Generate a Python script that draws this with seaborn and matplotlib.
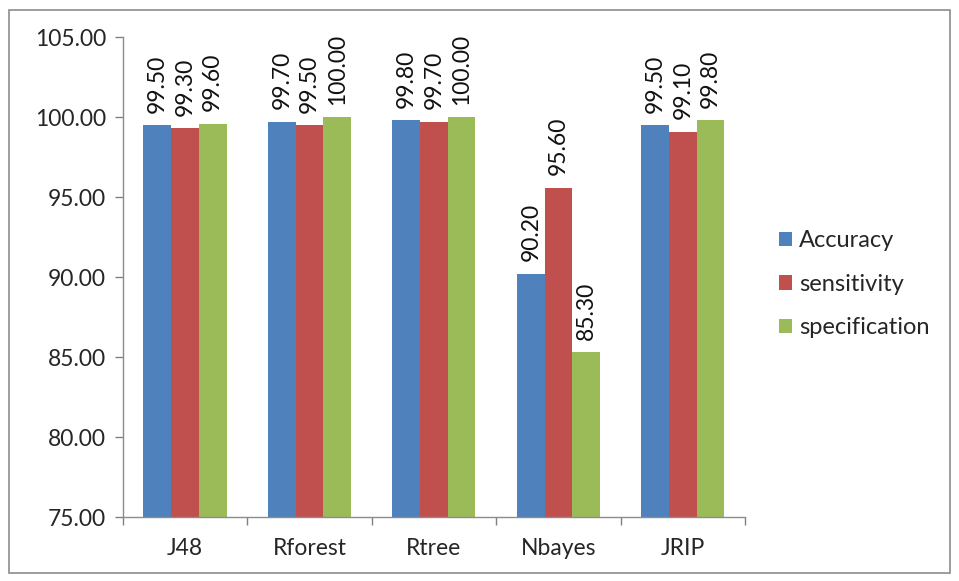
import pandas as pd
import matplotlib
matplotlib.use("Agg")
import matplotlib.pyplot as plt
import seaborn as sns
from matplotlib.patches import Rectangle

# data
models = ['J48', 'Rforest', 'Rtree', 'Nbayes', 'JRIP']
accuracy = [99.50, 99.70, 99.80, 90.20, 99.50]
sensitivity = [99.30, 99.50, 99.70, 95.60, 99.10]
specification = [99.60, 100.00, 100.00, 85.30, 99.80]
metrics = ['Accuracy', 'sensitivity', 'specification']
colors = ['#4F81BD', '#C0504D', '#9BBB59']

df = pd.DataFrame({'Model': models, 'Accuracy': accuracy,
                   'sensitivity': sensitivity, 'specification': specification})
long_df = df.melt(id_vars='Model', var_name='Metric', value_name='Value')

sns.set_style('white')
plt.rcParams['font.family'] = ['Lato', 'DejaVu Sans']

fig = plt.figure(figsize=(9.59, 5.81), dpi=100)
ax = fig.add_axes([0.128, 0.110, 0.649, 0.826])

sns.barplot(data=long_df, x='Model', y='Value', hue='Metric', hue_order=metrics,
            palette=colors, width=0.667, saturation=1, ax=ax, gap=0, linewidth=0)

ax.set_ylim(75, 105)
ax.set_yticks(range(75, 106, 5))
ax.set_yticklabels([f'{v:.2f}' for v in range(75, 106, 5)])
ax.set_xlim(-0.5, len(models) - 0.5)
ax.set_xlabel('')
ax.set_ylabel('')
ax.tick_params(axis='both', labelsize=16.5, labelcolor='#262626')
ax.tick_params(axis='y', length=6, width=1, direction='out', left=True, pad=6, color='#808080')
ax.tick_params(axis='x', length=0, pad=15)
# tick marks between categories
ax.set_xticks([i - 0.5 for i in range(len(models) + 1)], minor=True)
ax.tick_params(axis='x', which='minor', length=6, width=1, direction='out', bottom=True, color='#808080')

for s in ['top', 'right']:
    ax.spines[s].set_visible(False)
for s in ['left', 'bottom']:
    ax.spines[s].set_color('#8c8c8c')
    ax.spines[s].set_linewidth(1)

for cont in ax.containers:
    ax.bar_label(cont, fmt='%.2f', rotation=90, padding=9, fontsize=16.5, color='#111111')

handles, labels = ax.get_legend_handles_labels()
ax.legend(handles, labels, loc='center left', bbox_to_anchor=(1.02, 0.485), frameon=False,
          fontsize=17, handlelength=0.55, handleheight=0.55, handletextpad=0.3,
          labelspacing=0.95)

fig.patches.append(Rectangle((0.009, 0.014), 0.982, 0.968, transform=fig.transFigure,
                             fill=False, edgecolor='#8c8c8c', linewidth=1.2))

fig.savefig('out.png', dpi=100)
